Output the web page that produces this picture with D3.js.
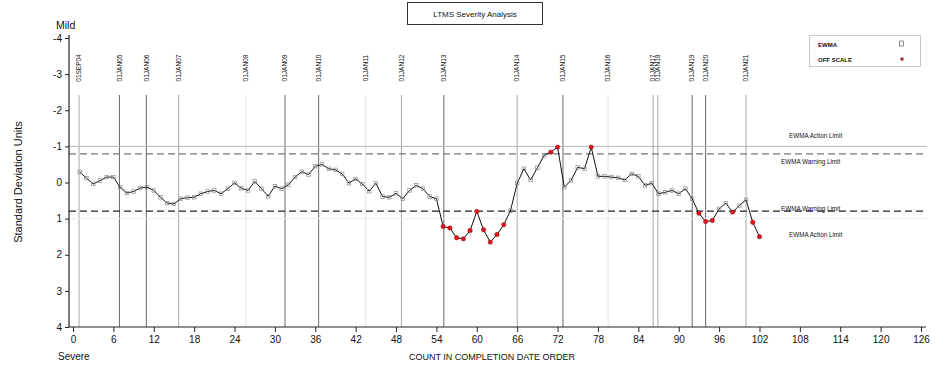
<!DOCTYPE html>
<html>
<head>
<meta charset="utf-8">
<script src="https://cdn.jsdelivr.net/npm/d3@7/dist/d3.min.js"></script>
<style>
  body { margin: 0; background: #fff; }
  text { font-family: "Liberation Sans", Arial, sans-serif; fill: #111; }
</style>
</head>
<body>
<svg id="chart" width="942" height="368"></svg>
<script>
// EWMA severity values, one per test in completion order (count 1..102)
const ewmaValues = [
  -0.29, -0.12, 0.04, -0.05, -0.15, -0.15, 0.13, 0.29, 0.25, 0.15,
  0.13, 0.22, 0.41, 0.57, 0.59, 0.45, 0.42, 0.41, 0.31, 0.25,
  0.22, 0.31, 0.17, 0.01, 0.16, 0.22, -0.03, 0.17, 0.38, 0.10,
  0.17, 0.06, -0.15, -0.30, -0.22, -0.45, -0.50, -0.38, -0.35, -0.24,
  0.02, -0.10, 0.04, 0.24, 0.02, 0.39, 0.41, 0.30, 0.45, 0.22,
  0.08, 0.17, 0.39, 0.45, 1.22, 1.26, 1.53, 1.56, 1.33, 0.80,
  1.31, 1.65, 1.44, 1.17, 0.78, 0.02, -0.38, -0.07, -0.41, -0.75,
  -0.84, -0.98, 0.13, -0.06, -0.42, -0.38, -0.98, -0.17, -0.17, -0.15,
  -0.13, -0.07, -0.24, -0.17, 0.08, 0.02, 0.31, 0.27, 0.22, 0.31,
  0.17, 0.45, 0.85, 1.08, 1.05, 0.73, 0.57, 0.82, 0.64, 0.48,
  1.10, 1.50
];

// Counts whose EWMA fell outside the warning band
const offScaleCounts = [55, 56, 57, 58, 59, 60, 61, 62, 63, 64, 71, 72, 77, 93, 94, 95, 98, 101, 102];

// Calendar reference lines (position in count units) and their labels
const refCounts = [0.9, 6.9, 10.9, 15.7, 25.7, 31.5, 36.5, 43.5, 48.8, 55.1, 66.0, 72.8, 79.5, 86.2, 86.9, 92.0, 94.0, 100.0];
const refLabels = ["01SEP04", "01JAN05", "01JAN06", "01JAN07", "01JAN08", "01JAN09", "01JAN10", "01JAN11", "01JAN12",
                   "01JAN13", "01JAN14", "01JAN15", "01JAN16", "01JAN17", "01JAN18", "01JAN19", "01JAN20", "01JAN21"];
const refKinds  = ["mid", "dark", "dark", "mid", "faint", "dark", "dark", "faint", "mid",
                   "dark", "mid", "dark", "faint", "mid", "mid", "dark", "dark", "mid"];

// Axis ticks
const xTickValues = [0, 6, 12, 18, 24, 30, 36, 42, 48, 54, 60, 66, 72, 78, 84, 90, 96, 102, 108, 114, 120, 126];
const yTickValues = [-4, -3, -2, -1, 0, 1, 2, 3, 4];

// Control limits (standard deviation units)
const actionLimit = 1.0;
const warningLimit = 0.79;

const svg = d3.select("#chart");
const x = d3.scaleLinear().domain([0, 126]).range([73, 921]);
const y = d3.scaleLinear().domain([-4, 4]).range([38, 327]);
const axisX = 69, axisY = y(4);
const lineRight = 927;

const kindColor = { dark: "#6a6a6a", mid: "#a8a8a8", faint: "#e2e2e2" };

// Calendar reference lines
const refs = svg.append("g");
refCounts.forEach((c, i) => {
  refs.append("line")
    .attr("x1", x(c)).attr("x2", x(c))
    .attr("y1", 95).attr("y2", axisY)
    .attr("stroke", kindColor[refKinds[i]]).attr("stroke-width", 1);
  refs.append("text")
    .attr("transform", `translate(${x(c) + 2.2},68) rotate(-90)`)
    .attr("text-anchor", "middle")
    .attr("font-size", 6.5)
    .text(refLabels[i]);
});

// Limit lines
svg.append("line").attr("x1", axisX).attr("x2", lineRight)
  .attr("y1", y(-actionLimit)).attr("y2", y(-actionLimit))
  .attr("stroke", "#b9b9b9").attr("stroke-width", 1);
svg.append("line").attr("x1", axisX).attr("x2", lineRight)
  .attr("y1", y(actionLimit)).attr("y2", y(actionLimit))
  .attr("stroke", "#eeeeee").attr("stroke-width", 1);
svg.append("line").attr("x1", axisX).attr("x2", lineRight - 4)
  .attr("y1", y(-warningLimit)).attr("y2", y(-warningLimit))
  .attr("stroke", "#777").attr("stroke-width", 1.2).attr("stroke-dasharray", "7,4");
svg.append("line").attr("x1", axisX).attr("x2", lineRight - 4)
  .attr("y1", y(warningLimit)).attr("y2", y(warningLimit))
  .attr("stroke", "#222").attr("stroke-width", 1.3).attr("stroke-dasharray", "7,4");

// Limit labels
const limLab = [
  { t: "EWMA Action Limit", x0: 789, v: -actionLimit, dy: -8 },
  { t: "EWMA Warning Limit", x0: 781, v: -warningLimit, dy: 10 },
  { t: "EWMA Warning Limit", x0: 781, v: warningLimit, dy: 0 },
  { t: "EWMA Action Limit", x0: 789, v: actionLimit, dy: 18 }
];
limLab.forEach(d => {
  svg.append("text").attr("x", d.x0).attr("y", y(d.v) + d.dy)
    .attr("font-size", 6.3).text(d.t);
});

// Axes
const gx = svg.append("g").attr("transform", `translate(0,${axisY})`);
gx.call(d3.axisBottom(x).tickValues(d3.range(0, 127)).tickSize(2).tickFormat(""));
gx.call(d3.axisBottom(x).tickValues(xTickValues).tickSize(5).tickPadding(4).tickFormat(d => String(d)));
gx.selectAll(".domain").remove();
gx.selectAll("line").attr("stroke", "#222");
gx.selectAll("text").attr("font-size", 10).attr("font-family", "Liberation Sans, Arial, sans-serif").attr("fill", "#111");
svg.append("line").attr("x1", axisX).attr("x2", 926).attr("y1", axisY).attr("y2", axisY)
  .attr("stroke", "#222").attr("stroke-width", 1.2);

const gy = svg.append("g").attr("transform", `translate(${axisX},0)`);
gy.call(d3.axisLeft(y).tickValues(yTickValues).tickSize(4).tickPadding(3).tickFormat(d => String(d)));
gy.select(".domain").remove();
gy.selectAll("line").attr("stroke", "#222");
gy.selectAll("text").attr("font-size", 10).attr("font-family", "Liberation Sans, Arial, sans-serif").attr("fill", "#111");
svg.append("line").attr("x1", axisX).attr("x2", axisX).attr("y1", 35).attr("y2", axisY)
  .attr("stroke", "#222").attr("stroke-width", 1.2);

// Axis titles
svg.append("text").attr("transform", "translate(22,182) rotate(-90)")
  .attr("text-anchor", "middle").attr("font-size", 11).text("Standard Deviation Units");
svg.append("text").attr("x", 56).attr("y", 29).attr("font-size", 10.5).text("Mild");
svg.append("text").attr("x", 58).attr("y", 360).attr("font-size", 10).text("Severe");
svg.append("text").attr("x", 492).attr("y", 360).attr("text-anchor", "middle")
  .attr("font-size", 9).text("COUNT IN COMPLETION DATE ORDER");

// Title box
svg.append("rect").attr("x", 407.5).attr("y", 2.5).attr("width", 135).attr("height", 22)
  .attr("fill", "none").attr("stroke", "#333").attr("stroke-width", 1);
svg.append("text").attr("x", 475).attr("y", 16.5).attr("text-anchor", "middle")
  .attr("font-size", 8).text("LTMS Severity Analysis");

// EWMA series
const pts = ewmaValues.map((v, i) => ({ n: i + 1, v }));
svg.append("path").datum(pts)
  .attr("fill", "none").attr("stroke", "#111").attr("stroke-width", 1)
  .attr("d", d3.line().x(d => x(d.n)).y(d => y(d.v)));

const offSet = new Set(offScaleCounts);
svg.append("g").selectAll("rect").data(pts.filter(d => !offSet.has(d.n))).join("rect")
  .attr("x", d => x(d.n) - 1.75).attr("y", d => y(d.v) - 1.75)
  .attr("width", 3.5).attr("height", 3.5)
  .attr("fill", "none").attr("stroke", "#8a8a8a").attr("stroke-width", 0.7);
svg.append("g").selectAll("circle").data(pts.filter(d => offSet.has(d.n))).join("circle")
  .attr("cx", d => x(d.n)).attr("cy", d => y(d.v)).attr("r", 2.2)
  .attr("fill", "#e8141b").attr("stroke", "#7a1010").attr("stroke-width", 0.5);

// Legend
svg.append("rect").attr("x", 809.5).attr("y", 35.5).attr("width", 111).attr("height", 31)
  .attr("fill", "#fff").attr("stroke", "#c8c8c8").attr("stroke-width", 1);
svg.append("text").attr("x", 818).attr("y", 46.5).attr("font-size", 6).attr("font-weight", "bold").text("EWMA");
svg.append("rect").attr("x", 899.5).attr("y", 41).attr("width", 4).attr("height", 5)
  .attr("fill", "none").attr("stroke", "#777").attr("stroke-width", 0.8);
svg.append("text").attr("x", 818).attr("y", 62).attr("font-size", 6).attr("font-weight", "bold").text("OFF SCALE");
svg.append("circle").attr("cx", 902).attr("cy", 59).attr("r", 1.5)
  .attr("fill", "#e8141b").attr("stroke", "#555").attr("stroke-width", 0.5);
</script>
</body>
</html>
